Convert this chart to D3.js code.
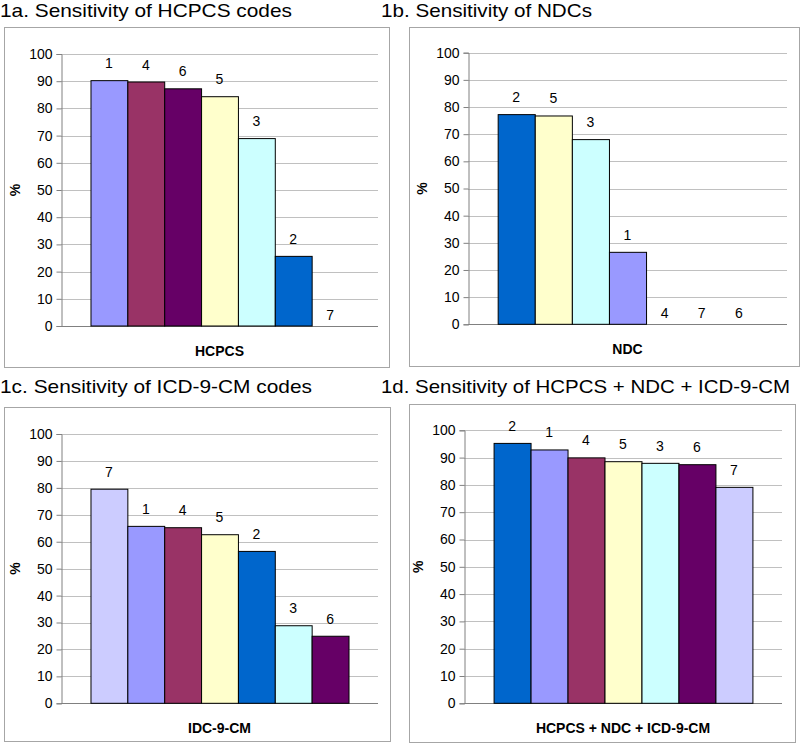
<!DOCTYPE html>
<html>
<head>
<meta charset="utf-8">
<script src="https://cdn.jsdelivr.net/npm/d3@7"></script>
<style>
  html, body { margin: 0; padding: 0; background: #fff; }
  svg { display: block; font-family: "Liberation Sans", Arial, sans-serif; }
</style>
</head>
<body>
<svg id="chart" width="800" height="744"></svg>
<script>
// ---- Data ----
const titles = [
  "1a. Sensitivity of HCPCS codes",
  "1b. Sensitivity of NDCs",
  "1c. Sensitivity of ICD-9-CM codes",
  "1d. Sensitivity of HCPCS + NDC + ICD-9-CM"
];
const axisTitles = ["HCPCS", "NDC", "IDC-9-CM", "HCPCS + NDC + ICD-9-CM"];

const groupsA = ["1", "4", "6", "5", "3", "2", "7"];
const valuesA = [90.2, 89.7, 87.2, 84.3, 68.9, 25.6, 0];

const groupsB = ["2", "5", "3", "1", "4", "7", "6"];
const valuesB = [77.2, 76.7, 68.0, 26.5, 0, 0, 0];

const groupsC = ["7", "1", "4", "5", "2", "3", "6"];
const valuesC = [79.5, 65.7, 65.2, 62.6, 56.4, 28.8, 24.9];

const groupsD = ["2", "1", "4", "5", "3", "6", "7"];
const valuesD = [95.2, 92.8, 89.9, 88.5, 87.9, 87.4, 79.1];

const yTicks = [0, 10, 20, 30, 40, 50, 60, 70, 80, 90, 100];

const groupColors = {
  "1": "#9999FF", "2": "#0066CC", "3": "#CCFFFF", "4": "#993366",
  "5": "#FFFFCC", "6": "#660066", "7": "#CCCCFF"
};

// ---- Layout ----
const panels = [
  { title: titles[0], axis: axisTitles[0], groups: groupsA, values: valuesA,
    tx: 0, ty: 17, tw: 292, box: [4, 27, 389, 367], px: [61, 378], py: [54, 326] },
  { title: titles[1], axis: axisTitles[1], groups: groupsB, values: valuesB,
    tx: 381, ty: 17, tw: 211, box: [409, 27, 799, 366], px: [468, 787], py: [52.7, 324.3] },
  { title: titles[2], axis: axisTitles[2], groups: groupsC, values: valuesC,
    tx: 0, ty: 393, tw: 312, box: [4, 407, 390, 741], px: [61, 378], py: [434, 703.3] },
  { title: titles[3], axis: axisTitles[3], groups: groupsD, values: valuesD,
    tx: 381, ty: 393, tw: 409, box: [409, 404, 795, 742], px: [464, 782], py: [430.3, 703.3] }
];

const svg = d3.select("#chart");

panels.forEach(p => {
  const g = svg.append("g");

  g.append("text")
    .attr("x", p.tx).attr("y", p.ty)
    .attr("font-size", 19)
    .attr("fill", "#000")
    .attr("textLength", p.tw)
    .attr("lengthAdjust", "spacingAndGlyphs")
    .text(p.title);

  const [bx0, by0, bx1, by1] = p.box;
  g.append("rect")
    .attr("x", bx0 + 0.5).attr("y", by0 + 0.5)
    .attr("width", bx1 - bx0).attr("height", by1 - by0)
    .attr("fill", "#fff").attr("stroke", "#a6a6a6").attr("stroke-width", 1);

  const y = d3.scaleLinear().domain([0, 100]).range([p.py[1], p.py[0]]);
  const x = d3.scaleBand().domain(d3.range(p.groups.length))
    .range(p.px).paddingInner(0).paddingOuter(0.8);

  // gridlines
  g.append("g").selectAll("line").data(yTicks.filter(t => t > 0)).join("line")
    .attr("x1", p.px[0]).attr("x2", p.px[1])
    .attr("y1", d => Math.round(y(d)) + 0.5).attr("y2", d => Math.round(y(d)) + 0.5)
    .attr("stroke", "#c0c0c0").attr("stroke-width", 1);

  // y axis
  const ax = g.append("g")
    .attr("transform", `translate(${p.px[0] + 0.5},0)`)
    .call(d3.axisLeft(y).tickValues(yTicks).tickSize(5).tickPadding(4).tickFormat(d3.format("d")));
  ax.select(".domain").attr("stroke", "#808080");
  ax.selectAll(".tick line").attr("stroke", "#808080");
  ax.selectAll(".tick text").attr("font-size", 14).attr("fill", "#000")
    .attr("font-family", "Liberation Sans, Arial, sans-serif");

  // baseline
  g.append("line")
    .attr("x1", p.px[0]).attr("x2", p.px[1])
    .attr("y1", Math.round(y(0)) + 0.5).attr("y2", Math.round(y(0)) + 0.5)
    .attr("stroke", "#808080");

  // bars
  const data = p.groups.map((k, i) => ({ k, v: p.values[i], i }));
  g.append("g").selectAll("rect").data(data.filter(d => d.v > 0)).join("rect")
    .attr("x", d => x(d.i) + 0.5)
    .attr("y", d => y(d.v))
    .attr("width", x.bandwidth())
    .attr("height", d => y(0) - y(d.v))
    .attr("fill", d => groupColors[d.k])
    .attr("stroke", "#000").attr("stroke-width", 1);

  // data labels
  g.append("g").selectAll("text").data(data).join("text")
    .attr("x", d => x(d.i) + x.bandwidth() / 2)
    .attr("y", d => y(d.v) - (d.v > 0 ? 12.5 : 6))
    .attr("text-anchor", "middle")
    .attr("font-size", 14)
    .attr("fill", "#000")
    .text(d => d.k);

  // y axis title
  const ymid = (p.py[0] + p.py[1]) / 2;
  g.append("text")
    .attr("transform", `translate(${p.px[0] - 41},${ymid}) rotate(-90)`)
    .attr("text-anchor", "middle")
    .attr("font-size", 14).attr("font-weight", "bold")
    .text("%");

  // x axis title
  g.append("text")
    .attr("x", (p.px[0] + p.px[1]) / 2)
    .attr("y", p.py[1] + 30)
    .attr("text-anchor", "middle")
    .attr("font-size", 14).attr("font-weight", "bold")
    .text(p.axis);
});
</script>
</body>
</html>
